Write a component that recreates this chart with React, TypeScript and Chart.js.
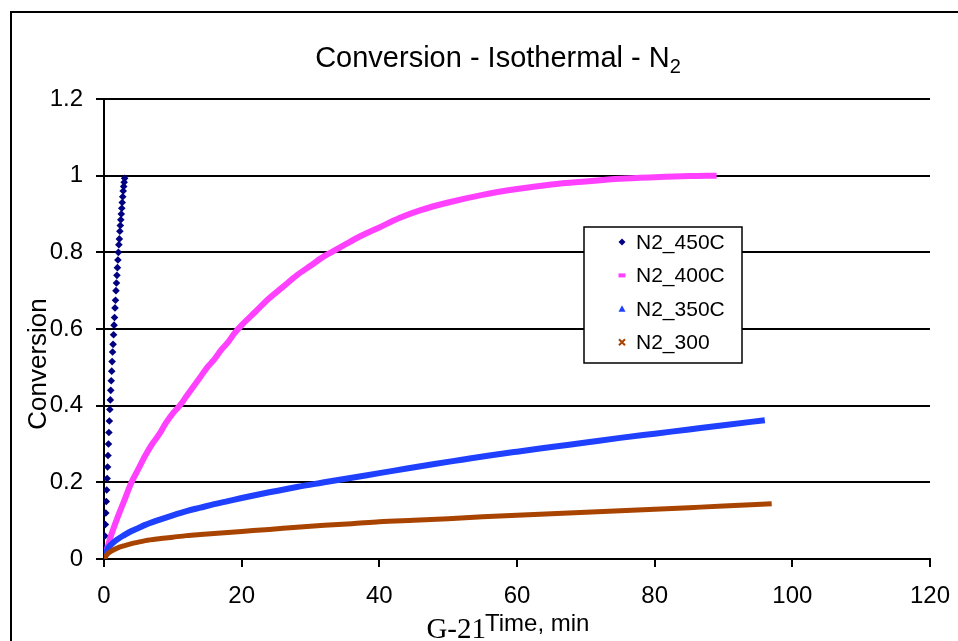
import React, { useEffect, useRef } from 'react';
import { Chart, registerables } from 'chart.js';

Chart.register(...registerables);

const FONT = '"Liberation Sans", Arial, Helvetica, sans-serif';
const SERIF = '"Liberation Serif", "Times New Roman", serif';

const TITLE_MAIN = 'Conversion - Isothermal - N';
const TITLE_SUB = '2';
const X_TITLE = 'Time, min';
const Y_TITLE = 'Conversion';
const STAMP = 'G-21';

const SERIES_NAMES = ['N2_450C', 'N2_400C', 'N2_350C', 'N2_300'];
const COLORS = ['#000080', '#FF40FF', '#2040FF', '#A84300'];

const X_MIN = 0;
const X_MAX = 120;
const X_STEP = 20;
const Y_MIN = 0;
const Y_MAX = 1.2;
const Y_STEP = 0.2;

// N2_450C (discrete diamond markers)
const T_450 = [0, 0.07, 0.13, 0.2, 0.26, 0.33, 0.39, 0.46, 0.52, 0.58, 0.65, 0.71, 0.78, 0.85, 0.92, 0.98, 1.05, 1.12, 1.18, 1.25, 1.32, 1.39, 1.46, 1.53, 1.6, 1.67, 1.74, 1.81, 1.88, 1.95, 2.02, 2.09, 2.16, 2.23, 2.3, 2.37, 2.44, 2.51, 2.58, 2.65, 2.72, 2.79, 2.86, 2.93, 3.0];
const C_450 = [0, 0.03, 0.06, 0.09, 0.12, 0.15, 0.18, 0.21, 0.24, 0.27, 0.3, 0.33, 0.36, 0.39, 0.415, 0.44, 0.465, 0.49, 0.515, 0.54, 0.56, 0.585, 0.61, 0.63, 0.655, 0.675, 0.7, 0.72, 0.74, 0.76, 0.78, 0.8, 0.82, 0.835, 0.855, 0.87, 0.885, 0.9, 0.915, 0.93, 0.945, 0.96, 0.972, 0.983, 0.993];

// N2_400C
const T_400 = [0, 0.5, 1, 2, 3, 4, 5, 6, 7, 8, 9, 10, 11, 12, 13, 14, 15, 16, 17, 18, 19, 20, 22, 24, 26, 28, 30, 32, 33, 35, 37, 40, 43, 46, 50, 55, 60, 65, 70, 75, 80, 85, 89];
const C_400 = [0, 0.03, 0.06, 0.11, 0.155, 0.2, 0.235, 0.27, 0.3, 0.325, 0.355, 0.38, 0.4, 0.425, 0.45, 0.475, 0.5, 0.52, 0.545, 0.565, 0.59, 0.61, 0.645, 0.68, 0.71, 0.74, 0.765, 0.79, 0.8, 0.82, 0.84, 0.865, 0.89, 0.91, 0.93, 0.95, 0.965, 0.977, 0.985, 0.992, 0.996, 0.999, 1.0];

// N2_350C
const T_350 = [0, 0.5, 1, 2, 3, 4, 5, 6, 8, 10, 12, 14, 16, 18, 20, 24, 28, 32, 36, 40, 44, 48, 52, 56, 60, 65, 70, 75, 80, 85, 90, 96];
const C_350 = [0, 0.025, 0.037, 0.052, 0.063, 0.073, 0.081, 0.089, 0.102, 0.114, 0.125, 0.134, 0.143, 0.151, 0.159, 0.174, 0.188, 0.2, 0.212, 0.224, 0.236, 0.248, 0.259, 0.27, 0.28, 0.292, 0.304, 0.316, 0.327, 0.338, 0.349, 0.362];

// N2_300
const T_300 = [0, 0.5, 1, 2, 3, 4, 5, 6, 8, 10, 12, 14, 17, 20, 24, 28, 32, 36, 40, 45, 50, 55, 60, 65, 70, 75, 80, 85, 90, 97];
const C_300 = [0, 0.013, 0.02, 0.029, 0.035, 0.04, 0.044, 0.048, 0.053, 0.057, 0.061, 0.064, 0.068, 0.072, 0.077, 0.083, 0.088, 0.092, 0.097, 0.101, 0.105, 0.11, 0.114, 0.118, 0.122, 0.126, 0.13, 0.134, 0.138, 0.144];

const toPoints = (ts: number[], cs: number[]) => ts.map((t, i) => ({ x: t, y: cs[i] }));

function drawMarker(ctx: CanvasRenderingContext2D, kind: number, x: number, y: number, color: string) {
  ctx.save();
  ctx.fillStyle = color;
  ctx.strokeStyle = color;
  if (kind === 0) {
    ctx.beginPath();
    ctx.moveTo(x, y - 3.5);
    ctx.lineTo(x + 3.5, y);
    ctx.lineTo(x, y + 3.5);
    ctx.lineTo(x - 3.5, y);
    ctx.closePath();
    ctx.fill();
  } else if (kind === 1) {
    ctx.fillRect(x - 3.5, y - 2, 7, 4);
  } else if (kind === 2) {
    ctx.beginPath();
    ctx.moveTo(x, y - 3.5);
    ctx.lineTo(x + 3.5, y + 3);
    ctx.lineTo(x - 3.5, y + 3);
    ctx.closePath();
    ctx.fill();
  } else {
    ctx.lineWidth = 2;
    ctx.beginPath();
    ctx.moveTo(x - 3, y - 3);
    ctx.lineTo(x + 3, y + 3);
    ctx.moveTo(x + 3, y - 3);
    ctx.lineTo(x - 3, y + 3);
    ctx.stroke();
  }
  ctx.restore();
}

const decorPlugin = {
  id: 'decor',
  beforeDraw(chart: any) {
    const ctx = chart.ctx as CanvasRenderingContext2D;
    ctx.save();
    ctx.fillStyle = '#ffffff';
    ctx.fillRect(0, 0, chart.width, chart.height);
    ctx.restore();
  },
  afterDraw(chart: any) {
    const ctx = chart.ctx as CanvasRenderingContext2D;
    ctx.save();
    // outer frame
    ctx.strokeStyle = '#000';
    ctx.lineWidth = 2;
    ctx.strokeRect(11, 12, 1200, 1200);

    // title
    ctx.fillStyle = '#000';
    ctx.textAlign = 'left';
    ctx.textBaseline = 'alphabetic';
    ctx.font = `29px ${FONT}`;
    const w1 = ctx.measureText(TITLE_MAIN).width;
    ctx.font = `20px ${FONT}`;
    const w2 = ctx.measureText(TITLE_SUB).width;
    const x0 = 498 - (w1 + w2) / 2;
    ctx.font = `29px ${FONT}`;
    ctx.fillText(TITLE_MAIN, x0, 67);
    ctx.font = `20px ${FONT}`;
    ctx.fillText(TITLE_SUB, x0 + w1, 73);

    // y title
    ctx.save();
    ctx.translate(46, 364);
    ctx.rotate(-Math.PI / 2);
    ctx.font = `26px ${FONT}`;
    ctx.textAlign = 'center';
    ctx.fillText(Y_TITLE, 0, 0);
    ctx.restore();

    // x title + stamp
    ctx.font = `24px ${FONT}`;
    ctx.textAlign = 'left';
    ctx.fillText(X_TITLE, 485, 631);
    ctx.font = `29px ${SERIF}`;
    ctx.textAlign = 'right';
    ctx.fillText(STAMP, 486, 638);

    // legend
    const lx = 584, ly = 227, lw = 158, lh = 136;
    ctx.fillStyle = '#fff';
    ctx.fillRect(lx, ly, lw, lh);
    ctx.strokeStyle = '#000';
    ctx.lineWidth = 1.5;
    ctx.strokeRect(lx, ly, lw, lh);
    ctx.font = `21px ${FONT}`;
    ctx.textAlign = 'left';
    ctx.textBaseline = 'middle';
    SERIES_NAMES.forEach((name, i) => {
      const y = 242 + i * 33.4;
      drawMarker(ctx, i, 622, y, COLORS[i]);
      ctx.fillStyle = '#000';
      ctx.fillText(name, 636, y + 1);
    });
    ctx.restore();
  },
};

export default function App() {
  const canvasRef = useRef<HTMLCanvasElement | null>(null);

  useEffect(() => {
    document.body.style.margin = '0';
    const canvas = canvasRef.current;
    if (!canvas) return;
    const chart = new Chart(canvas, {
      type: 'scatter',
      data: {
        datasets: [
          {
            label: SERIES_NAMES[0],
            data: toPoints(T_450, C_450),
            showLine: false,
            pointStyle: 'rectRot',
            pointRadius: 3.8,
            backgroundColor: COLORS[0],
            borderColor: COLORS[0],
            borderWidth: 0,
            order: 4,
          },
          {
            label: SERIES_NAMES[1],
            data: toPoints(T_400, C_400),
            showLine: true,
            pointRadius: 0,
            borderColor: COLORS[1],
            backgroundColor: COLORS[1],
            borderWidth: 6,
            cubicInterpolationMode: 'monotone',
            order: 3,
          },
          {
            label: SERIES_NAMES[2],
            data: toPoints(T_350, C_350),
            showLine: true,
            pointRadius: 0,
            borderColor: COLORS[2],
            backgroundColor: COLORS[2],
            borderWidth: 6,
            cubicInterpolationMode: 'monotone',
            order: 2,
          },
          {
            label: SERIES_NAMES[3],
            data: toPoints(T_300, C_300),
            showLine: true,
            pointRadius: 0,
            borderColor: COLORS[3],
            backgroundColor: COLORS[3],
            borderWidth: 5,
            cubicInterpolationMode: 'monotone',
            order: 1,
          },
        ],
      },
      options: {
        responsive: false,
        animation: false,
        devicePixelRatio: 1,
        layout: { padding: { left: 0, top: 99, right: 28, bottom: 0 } },
        plugins: {
          legend: { display: false },
          title: { display: false },
          tooltip: { enabled: false },
        },
        scales: {
          x: {
            type: 'linear',
            min: X_MIN,
            max: X_MAX,
            ticks: {
              stepSize: X_STEP,
              color: '#000',
              font: { family: FONT, size: 24 },
              padding: 15,
              maxRotation: 0,
            },
            grid: { drawOnChartArea: false, drawTicks: true, tickLength: 8, color: '#000', lineWidth: 2 },
            border: { display: true, color: '#000', width: 2 },
            afterFit: (s: any) => { s.height = 82; s.paddingLeft = 0; s.paddingRight = 0; },
          },
          y: {
            type: 'linear',
            min: Y_MIN,
            max: Y_MAX,
            ticks: {
              stepSize: Y_STEP,
              color: '#000',
              font: { family: FONT, size: 24 },
              padding: 13,
              callback: (v: any) => String(Number(Number(v).toFixed(1))),
            },
            grid: { color: '#000', lineWidth: 2, tickLength: 8 },
            border: { display: true, color: '#000', width: 2 },
            afterFit: (s: any) => { s.width = 104; s.paddingTop = 0; s.paddingBottom = 0; },
          },
        },
      },
      plugins: [decorPlugin],
    } as any);
    return () => chart.destroy();
  }, []);

  return (
    <div style={{ width: 958, height: 641, position: 'relative' }}>
      <canvas ref={canvasRef} width={958} height={641} style={{ display: 'block' }} />
    </div>
  );
}
